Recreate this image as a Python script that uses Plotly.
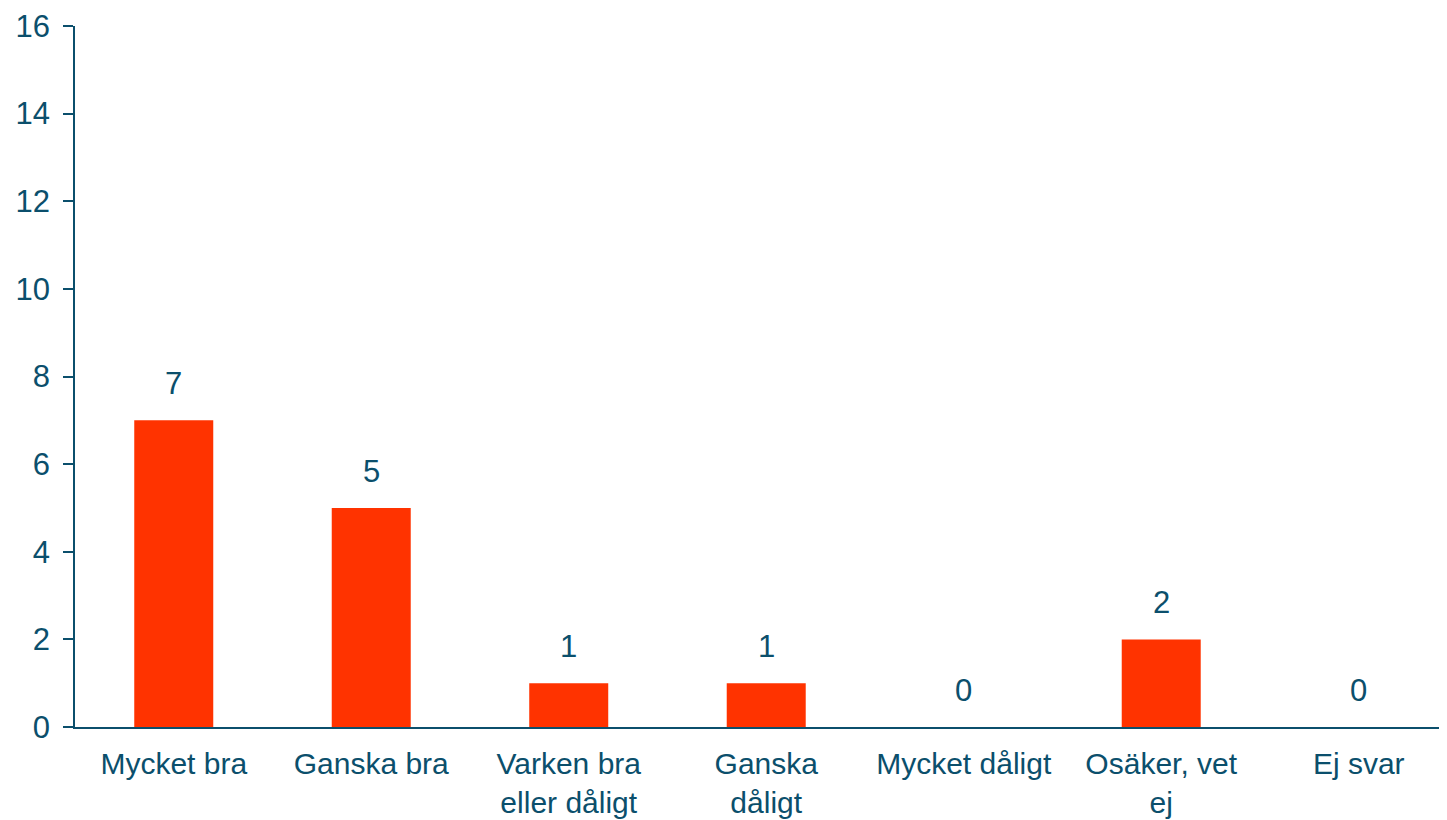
import plotly.graph_objects as go

categories = ["Mycket bra", "Ganska bra", "Varken bra<br>eller dåligt", "Ganska<br>dåligt",
              "Mycket dåligt", "Osäker, vet<br>ej", "Ej svar"]
values = [7, 5, 1, 1, 0, 2, 0]
y_ticks = [0, 2, 4, 6, 8, 10, 12, 14, 16]

TEXT = "#0B4F6C"
BAR = "#FF3300"
FONT = "Liberation Sans, Arial, sans-serif"

fig = go.Figure()
fig.add_trace(go.Bar(x=list(range(len(categories))), y=values, width=0.4,
                     marker=dict(color=BAR, line=dict(width=0)), hoverinfo="skip"))

for i, v in enumerate(values):
    fig.add_annotation(x=i, y=v, text=str(v), showarrow=False, yanchor="bottom",
                       yshift=17, font=dict(size=31, color=TEXT, family=FONT))

fig.update_layout(
    width=1439, height=812,
    margin=dict(l=67, r=0, t=18, b=93),
    paper_bgcolor="white", plot_bgcolor="white",
    showlegend=False,
    font=dict(family=FONT, color=TEXT, size=30),
    xaxis=dict(range=[-0.5, 6.447], tickmode="array", tickvals=list(range(len(categories))),
               ticktext=categories, showgrid=False, zeroline=False, showline=True,
               linecolor=TEXT, linewidth=2, ticks="", ticklabelstandoff=9, automargin=False,
               tickfont=dict(size=30, color=TEXT, family=FONT)),
    yaxis=dict(range=[0, 16], tickmode="array", tickvals=y_ticks, showgrid=False,
               zeroline=False, showline=True, linecolor=TEXT, linewidth=1.5,
               ticks="outside", ticklen=10, tickcolor=TEXT, tickwidth=1.5,
               ticklabelstandoff=7, automargin=False,
               tickfont=dict(size=31, color=TEXT, family=FONT)),
)

fig.write_html("out.html")
